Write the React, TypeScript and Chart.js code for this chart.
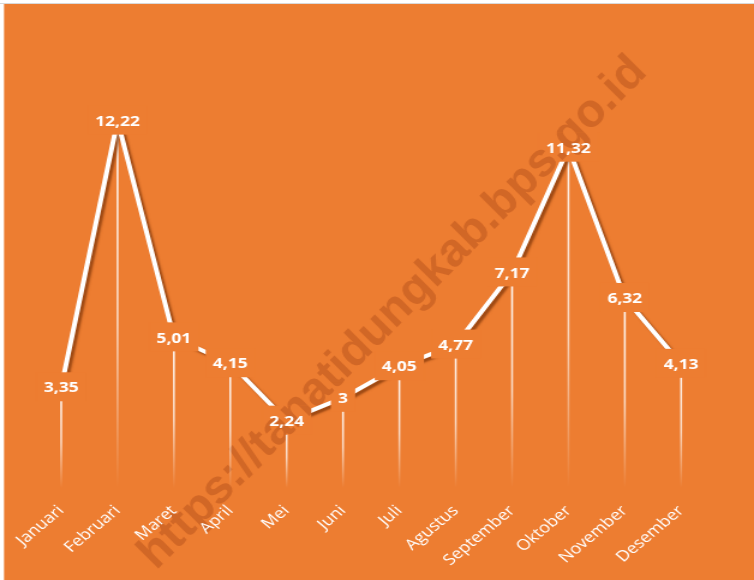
import React, { useEffect, useRef } from 'react';
import { Chart, registerables } from 'chart.js';

Chart.register(...registerables);

const categories = ['Januari', 'Februari', 'Maret', 'April', 'Mei', 'Juni', 'Juli', 'Agustus', 'September', 'Oktober', 'November', 'Desember'];
const values = [3.35, 12.22, 5.01, 4.15, 2.24, 3, 4.05, 4.77, 7.17, 11.32, 6.32, 4.13];
const valueLabels = values.map((v) => String(v).replace('.', ','));
const watermarkText = 'https://tanatidungkab.bps.go.id';

const ORANGE = '#ED7D31';
const LOGICAL_W = 628;
const REAL_W = 754;
const H = 580;
const SX = REAL_W / LOGICAL_W;

function drawWatermark(ctx: CanvasRenderingContext2D) {
  ctx.save();
  ctx.translate(393 / SX, 313);
  ctx.scale(1 / SX, 1);
  ctx.rotate((-45.3 * Math.PI) / 180);
  ctx.font = 'bold 47px "Liberation Sans", Arial, sans-serif';
  ctx.fillStyle = 'rgba(160,65,20,0.36)';
  ctx.textAlign = 'center';
  ctx.textBaseline = 'middle';
  ctx.fillText(watermarkText, 0, 0);
  ctx.restore();
}

export default function App() {
  const ref = useRef<HTMLCanvasElement>(null);

  useEffect(() => {
    document.body.style.margin = '0';
    const canvas = ref.current!;

    const bgPlugin = {
      id: 'bgPlugin',
      beforeDraw(chart: any) {
        const ctx = chart.ctx as CanvasRenderingContext2D;
        ctx.save();
        ctx.fillStyle = '#ffffff';
        ctx.fillRect(0, 0, chart.width, chart.height);
        ctx.fillStyle = '#d9d9d9';
        ctx.fillRect(0, 3, chart.width, 1);
        ctx.fillStyle = ORANGE;
        ctx.fillRect(4 / SX, 4, chart.width, chart.height);
        drawWatermark(ctx);
        ctx.restore();
      },
    };

    const dropPlugin = {
      id: 'dropPlugin',
      beforeDatasetsDraw(chart: any) {
        const ctx = chart.ctx as CanvasRenderingContext2D;
        const meta = chart.getDatasetMeta(0);
        const bottom = chart.chartArea.bottom;
        ctx.save();
        meta.data.forEach((pt: any) => {
          const g = ctx.createLinearGradient(0, pt.y, 0, bottom);
          g.addColorStop(0, 'rgba(255,255,255,0.95)');
          g.addColorStop(0.55, 'rgba(255,255,255,0.7)');
          g.addColorStop(1, 'rgba(255,255,255,0)');
          ctx.strokeStyle = g;
          ctx.lineWidth = 1.6;
          ctx.beginPath();
          ctx.moveTo(pt.x, pt.y);
          ctx.lineTo(pt.x, bottom);
          ctx.stroke();
        });
        ctx.restore();
      },
      beforeDatasetDraw(chart: any) {
        const ctx = chart.ctx as CanvasRenderingContext2D;
        ctx.save();
        ctx.shadowColor = 'rgba(130,55,10,0.75)';
        ctx.shadowOffsetX = 2.5;
        ctx.shadowOffsetY = 2.5;
        ctx.shadowBlur = 2;
      },
      afterDatasetDraw(chart: any) {
        chart.ctx.restore();
      },
      afterDatasetsDraw(chart: any) {
        const ctx = chart.ctx as CanvasRenderingContext2D;
        const meta = chart.getDatasetMeta(0);
        ctx.save();
        ctx.font = 'bold 14.5px "Open Sans", sans-serif';
        const boxes = meta.data.map((pt: any, i: number) => {
          const w = ctx.measureText(valueLabels[i]).width;
          return { x: pt.x - w / 2 - 6, y: pt.y - 15, w: w + 12, h: 29 };
        });
        ctx.fillStyle = ORANGE;
        boxes.forEach((b: any) => ctx.fillRect(b.x, b.y, b.w, b.h));
        ctx.save();
        ctx.beginPath();
        boxes.forEach((b: any) => ctx.rect(b.x, b.y, b.w, b.h));
        ctx.clip();
        drawWatermark(ctx);
        ctx.restore();
        ctx.fillStyle = '#ffffff';
        ctx.textAlign = 'center';
        ctx.textBaseline = 'middle';
        meta.data.forEach((pt: any, i: number) => {
          ctx.fillText(valueLabels[i], pt.x, pt.y + 1);
        });
        ctx.restore();
      },
    };

    const chart = new Chart(canvas, {
      type: 'line',
      data: {
        labels: categories,
        datasets: [
          {
            data: values,
            borderColor: '#ffffff',
            borderWidth: 4,
            pointRadius: 0,
            tension: 0,
            borderJoinStyle: 'miter',
            fill: false,
          },
        ],
      },
      options: {
        responsive: false,
        animation: false,
        devicePixelRatio: 1,
        layout: { padding: { left: 27.5, right: 37.2, top: 19, bottom: 0 } },
        plugins: {
          legend: { display: false },
          tooltip: { enabled: false },
        },
        scales: {
          x: {
            offset: true,
            grid: { display: false, drawTicks: false },
            border: { display: false },
            ticks: {
              color: '#ffffff',
              font: { family: '"Open Sans", sans-serif', size: 15 },
              minRotation: 45,
              maxRotation: 45,
              padding: 14,
              autoSkip: false,
            },
            afterFit(scale: any) {
              scale.height = 92;
            },
          },
          y: {
            display: false,
            min: 0,
            max: 15.6,
          },
        },
      },
      plugins: [bgPlugin, dropPlugin],
    });

    return () => chart.destroy();
  }, []);

  return (
    <canvas
      ref={ref}
      width={LOGICAL_W}
      height={H}
      style={{ width: `${REAL_W}px`, height: `${H}px`, display: 'block' }}
    />
  );
}
